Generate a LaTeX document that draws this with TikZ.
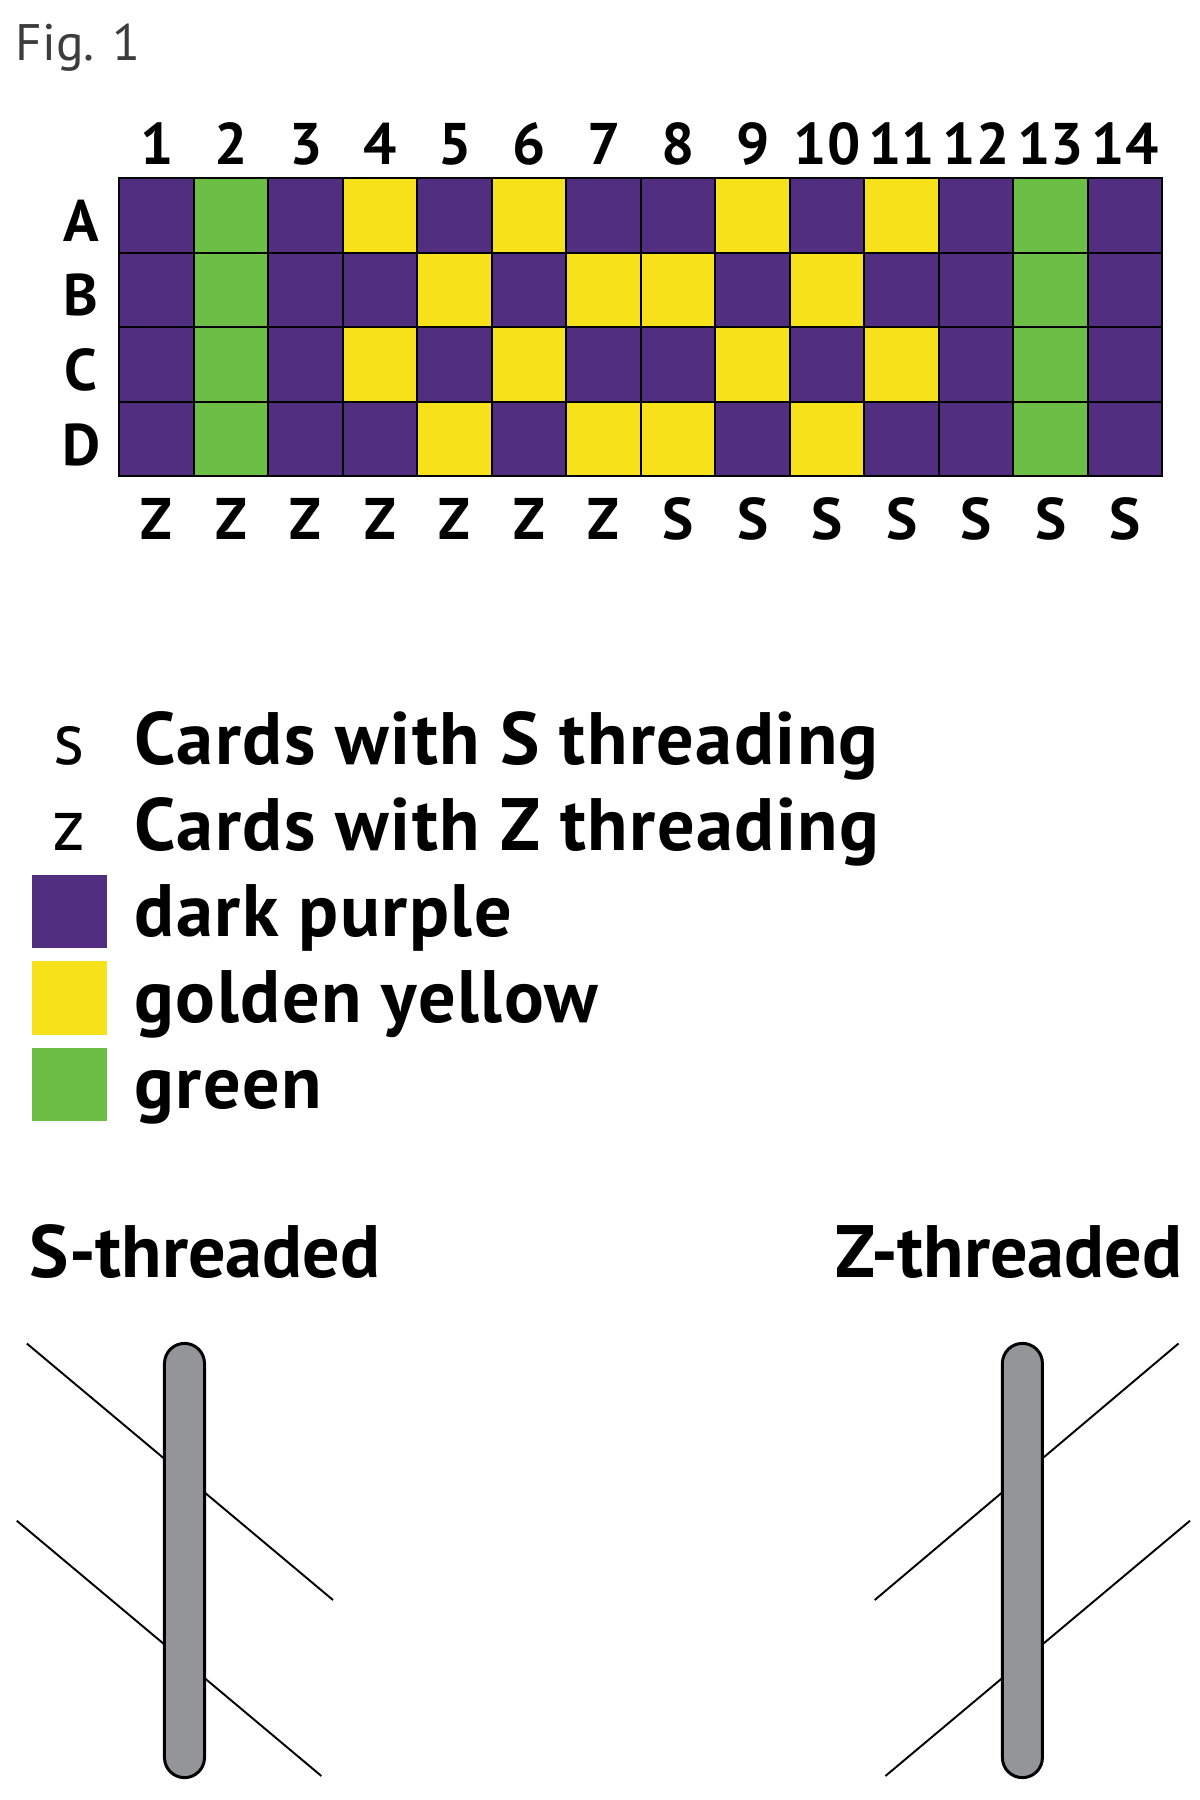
\documentclass[tikz,border=0pt]{standalone}
\usepackage{fontspec}
\setmainfont{PT Sans}
\usetikzlibrary{calc}
\definecolor{purp}{HTML}{522E81}
\definecolor{gold}{HTML}{F6E11B}
\definecolor{grn}{HTML}{6CBF44}
\definecolor{rodgray}{HTML}{939598}
\definecolor{figgray}{HTML}{3C3C3C}

\begin{document}
\begin{tikzpicture}[x=0.01cm,y=-0.01cm]%%card threading
                \tikzstyle{cell}   = [rectangle, draw=black, line width=0.6pt, minimum width=0.745cm, minimum height=0.746cm, inner sep=0pt, outer sep=0pt]
                \tikzstyle{lbl}    = [inner sep=0pt, font=\fontsize{16.7pt}{18pt}\selectfont\bfseries]
                \tikzstyle{big}    = [inner sep=0pt, font=\fontsize{21.1pt}{24pt}\selectfont]
                \tikzstyle{bigb}   = [inner sep=0pt, font=\fontsize{21.1pt}{24pt}\selectfont\bfseries]
                \tikzstyle{keytxt} = [inner sep=0pt, font=\fontsize{21.1pt}{24pt}\selectfont\bfseries\addfontfeatures{LetterSpace=2}]
                \tikzstyle{swatch} = [rectangle, minimum width=0.75cm, minimum height=0.735cm, inner sep=0pt]
                \tikzstyle{rod}    = [rectangle, draw=black, line width=0.85pt, fill=rodgray, rounded corners=0.2cm, minimum width=0.4cm, minimum height=4.34cm]
                \tikzstyle{thread} = [line width=0.55pt]
                \useasboundingbox (0,0) rectangle (1200,1800);

                \node [anchor=base west, inner sep=0pt, text=figgray, font=\fontsize{14.6pt}{16pt}\selectfont](fig) at (15,61) {Fig. 1};

                \foreach \c/\ac/\bc/\t in {1/purp/purp/Z, 2/grn/grn/Z, 3/purp/purp/Z, 4/gold/purp/Z, 5/purp/gold/Z, 6/gold/purp/Z, 7/purp/gold/Z,
                                           8/purp/gold/S, 9/gold/purp/S, 10/purp/gold/S, 11/gold/purp/S, 12/purp/purp/S, 13/grn/grn/S, 14/purp/purp/S}{
                        \node [cell, fill=\ac](a\c) at ({119.4+74.5*(\c-0.5)},215.3) {};
                        \node [cell, fill=\bc](b\c) at ($(a\c)+(0,74.6)$) {};
                        \node [cell, fill=\ac](c\c) at ($(b\c)+(0,74.6)$) {};
                        \node [cell, fill=\bc](d\c) at ($(c\c)+(0,74.6)$) {};
                        \node [lbl, anchor=base](n\c) at ($(a\c)+(0,-50.3)$) {\c};
                        \node [lbl, anchor=base](t\c) at ($(d\c)+(0,100)$) {\t};
                }
                \foreach \r/\l in {a/A,b/B,c/C,d/D}{
                        \node [lbl, anchor=base](row\l) at ($(\r1)+(-75.6,26)$) {\l};
                }

                \node [big, anchor=base](keyS) at (69,764) {s};
                \node [keytxt, anchor=base west](txtS) at (134,764) {Cards with S threading};
                \node [big, anchor=base](keyZ) at (69,850) {z};
                \node [keytxt, anchor=base west](txtZ) at (134,850) {Cards with Z threading};
                \foreach \k/\col/\name in {0/purp/dark purple,1/gold/golden yellow,2/grn/green}{
                        \node [swatch, fill=\col](sw\k) at (69.5,{911.5+86.5*\k}) {};
                        \node [keytxt, anchor=base west](nm\k) at (134,{936+86*\k}) {\name};
                }

                \node [bigb, anchor=base west](headS) at (29,1277) {S-threaded};
                \node [bigb, anchor=base east](headZ) at (1183,1277) {Z-threaded};

                \coordinate (s1a) at (26.8,1343.5);  \coordinate (s1b) at (333,1600);
                \coordinate (s2a) at (16.8,1520.7);  \coordinate (s2b) at (321.4,1776);
                \coordinate (z1a) at (1178.5,1343.5); \coordinate (z1b) at (874.7,1600);
                \coordinate (z2a) at (1190,1520.7);  \coordinate (z2b) at (885.4,1776);
                \draw [thread] (s1a)--(s1b);
                \draw [thread] (s2a)--(s2b);
                \draw [thread] (z1a)--(z1b);
                \draw [thread] (z2a)--(z2b);
                \node [rod](rodS) at (184.5,1560.5) {};
                \node [rod](rodZ) at (1022.4,1560.5) {};
\end{tikzpicture}
\end{document}
